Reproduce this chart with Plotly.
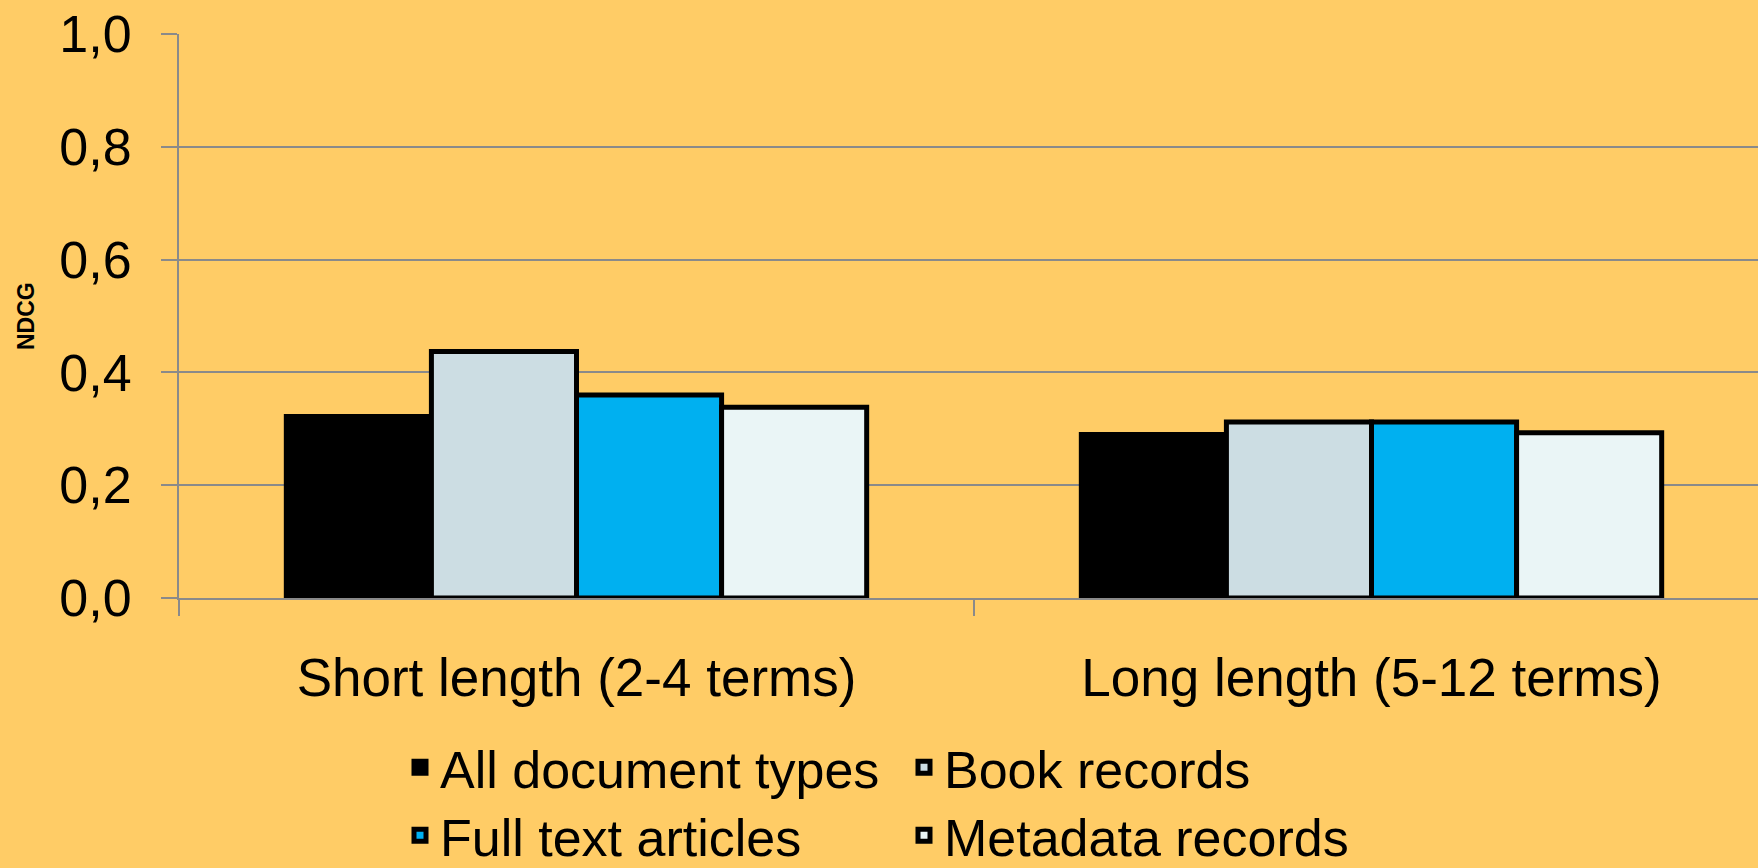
import plotly.graph_objects as go

categories = ["Short length (2-4 terms)", "Long length (5-12 terms)"]
series_names = ["All document types", "Book records", "Full text articles", "Metadata records"]
all_docs = [0.322, 0.290]
book_records = [0.437, 0.312]
full_text = [0.360, 0.312]
metadata = [0.338, 0.293]
series_values = [all_docs, book_records, full_text, metadata]
series_colors = ["#000000", "#CCDDE3", "#00B0F0", "#EAF5F6"]
legend_rows = ["legend", "legend", "legend2", "legend2"]
y_ticks = [0.0, 0.2, 0.4, 0.6, 0.8, 1.0]

FONT = "Liberation Sans, Arial, sans-serif"
BG = "#FFCC66"
GRID = "#8A8A8A"

fig = go.Figure()
for name, vals, col, lg in zip(series_names, series_values, series_colors, legend_rows):
    fig.add_trace(go.Bar(
        x=categories, y=vals, name=name, legend=lg,
        marker=dict(color=col, line=dict(color="#000000", width=5)),
    ))

W, H = 1758, 868
L, T, B = 179, 34, 270
legend_common = dict(
    orientation="h", xref="container", yref="container",
    x=400 / W, xanchor="left", yanchor="top",
    entrywidth=459, entrywidthmode="pixels",
    font=dict(family=FONT, size=52, color="#000000"),
    bgcolor="rgba(0,0,0,0)", traceorder="normal",
)
fig.update_layout(
    width=W, height=H,
    paper_bgcolor=BG, plot_bgcolor=BG,
    barmode="group", bargap=0.27, bargroupgap=0,
    separators=",.",
    font=dict(family=FONT, size=52, color="#000000"),
    margin=dict(l=L, r=0, t=T, b=B, autoexpand=False),
    showlegend=True,
    legend=dict(legend_common, y=1 - 727 / H),
    legend2=dict(legend_common, y=1 - 795 / H),
    annotations=[dict(
        text="<b>NDCG</b>", textangle=-90, showarrow=False,
        xref="paper", yref="paper", x=(26 - L) / (W - L), y=0.5,
        xanchor="center", yanchor="middle",
        font=dict(family=FONT, size=23, color="#000000"),
    )],
)
fig.update_xaxes(
    type="category", range=[-0.5, 1.5 - 11 / 795],
    showline=True, linecolor=GRID, linewidth=2,
    ticks="outside", tickson="boundaries", ticklen=16, tickwidth=2, tickcolor=GRID,
    showgrid=False, ticklabelstandoff=32,
    tickfont=dict(family=FONT, size=53, color="#000000"),
)
fig.update_yaxes(
    range=[0, 1], tickvals=y_ticks, tickformat=".1f",
    showline=True, linecolor=GRID, linewidth=2,
    showgrid=True, gridcolor=GRID, gridwidth=2, zeroline=False,
    ticks="outside", ticklen=16, tickwidth=2, tickcolor=GRID,
    ticklabelstandoff=19,
    tickfont=dict(family=FONT, size=52, color="#000000"),
)
fig.write_html(
    "out.html",
    config={"displayModeBar": False},
    post_script="document.body.style.margin='0';document.body.style.overflow='hidden';",
)
